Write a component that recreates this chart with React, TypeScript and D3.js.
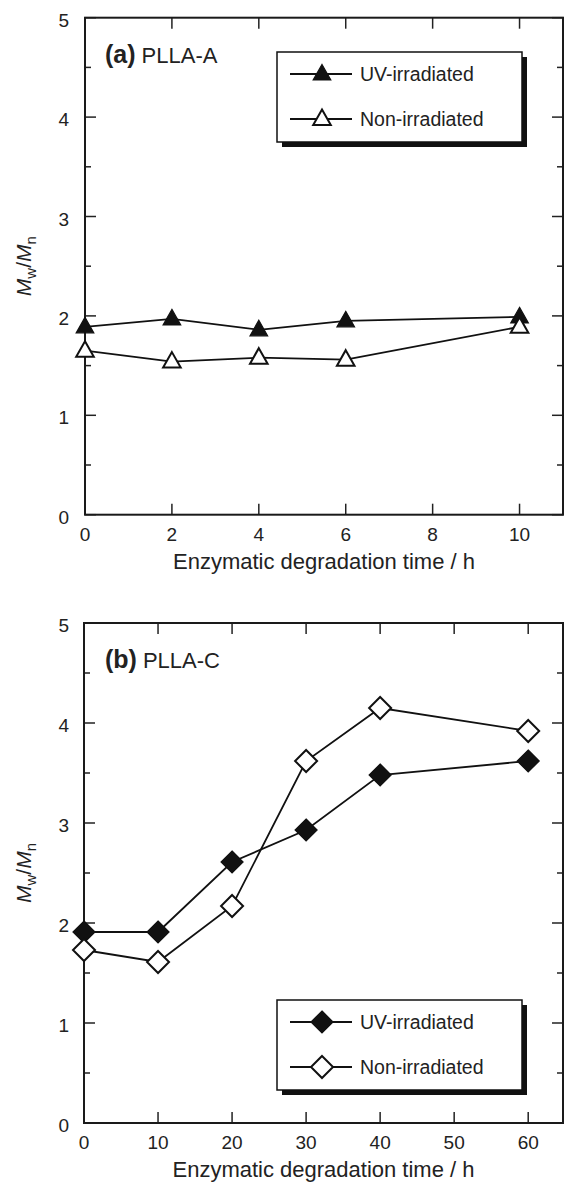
import React from 'react';
import * as d3 from 'd3';

// panel (a) PLLA-A
const timesA = [0, 2, 4, 6, 10];
const uvA = [1.89, 1.97, 1.86, 1.95, 1.99];
const nonA = [1.65, 1.54, 1.58, 1.56, 1.89];
const xTicksA = [0, 2, 4, 6, 8, 10];

// panel (b) PLLA-C
const timesB = [0, 10, 20, 30, 40, 60];
const uvB = [1.91, 1.91, 2.61, 2.93, 3.48, 3.62];
const nonB = [1.73, 1.61, 2.17, 3.62, 4.15, 3.92];
const xTicksB = [0, 10, 20, 30, 40, 50, 60];

const yTicks = [0, 1, 2, 3, 4, 5];
const yMinor = [0.5, 1.5, 2.5, 3.5, 4.5];

const FONT = '"Liberation Sans", Arial, Helvetica, sans-serif';

const triangle = 'M0,-9.5L8.8,6L-8.8,6Z';
const diamond = 'M0,-11L11,0L0,11L-11,0Z';

interface PanelProps {
  label: string;
  name: string;
  times: number[];
  uv: number[];
  non: number[];
  xTicks: number[];
  xMax: number;
  left: number;
  right: number;
  top: number;
  bottom: number;
  marker: string;
  legendY: number;
}

const Panel: React.FC<PanelProps> = (p) => {
  const x = d3.scaleLinear().domain([0, p.xMax]).range([p.left, p.right]);
  const y = d3.scaleLinear().domain([0, 5]).range([p.bottom, p.top]);
  const line = d3
    .line<number>()
    .x((_, i) => x(p.times[i]))
    .y((d) => y(d));
  const major = 11;
  const minor = 6;
  const midY = (p.top + p.bottom) / 2;
  const midX = (p.left + p.right) / 2;
  const lx = 277;
  const lw = 245;
  const lh = 90;

  const markers = (vals: number[], fill: string) =>
    vals.map((v, i) => (
      <path
        key={i}
        d={p.marker}
        transform={`translate(${x(p.times[i])},${y(v)})`}
        fill={fill}
        stroke="#111"
        strokeWidth={fill === '#fff' ? 2 : 1.2}
      />
    ));

  return (
    <g fontFamily={FONT} fill="#222">
      {/* ticks, inward on all four sides */}
      {p.xTicks.map((t) => (
        <g key={'x' + t} stroke="#222" strokeWidth={1.5}>
          <line x1={x(t)} x2={x(t)} y1={p.bottom} y2={p.bottom - major} />
          <line x1={x(t)} x2={x(t)} y1={p.top} y2={p.top + major} />
        </g>
      ))}
      {yTicks.map((t) => (
        <g key={'y' + t} stroke="#222" strokeWidth={1.5}>
          <line x1={p.left} x2={p.left + major} y1={y(t)} y2={y(t)} />
          <line x1={p.right} x2={p.right - major} y1={y(t)} y2={y(t)} />
        </g>
      ))}
      {yMinor.map((t) => (
        <g key={'m' + t} stroke="#222" strokeWidth={1.5}>
          <line x1={p.left} x2={p.left + minor} y1={y(t)} y2={y(t)} />
          <line x1={p.right} x2={p.right - minor} y1={y(t)} y2={y(t)} />
        </g>
      ))}
      <rect
        x={p.left}
        y={p.top}
        width={p.right - p.left}
        height={p.bottom - p.top}
        fill="none"
        stroke="#1a1a1a"
        strokeWidth={2}
      />
      {/* tick labels */}
      {p.xTicks.map((t) => (
        <text key={'xl' + t} x={x(t)} y={p.bottom + 26} textAnchor="middle" fontSize={19}>
          {t}
        </text>
      ))}
      {yTicks.map((t) => (
        <text key={'yl' + t} x={69} y={y(t) + 9} textAnchor="end" fontSize={19}>
          {t}
        </text>
      ))}
      <text x={midX} y={p.bottom + 54} textAnchor="middle" fontSize={22}>
        Enzymatic degradation time / h
      </text>
      <text transform={`translate(31,${midY}) rotate(-90)`} textAnchor="middle" fontSize={21}>
        <tspan fontStyle="italic">M</tspan>
        <tspan dy={5} fontSize={15}>w</tspan>
        <tspan dy={-5}>/</tspan>
        <tspan fontStyle="italic">M</tspan>
        <tspan dy={5} fontSize={15}>n</tspan>
      </text>
      <text x={105} y={p.top + 45} fontSize={22}>
        <tspan fontWeight="bold" fontSize={25}>{p.label}</tspan>
        <tspan dx={6}>{p.name}</tspan>
      </text>
      {/* series */}
      <path d={line(p.non) || ''} fill="none" stroke="#111" strokeWidth={1.8} />
      <path d={line(p.uv) || ''} fill="none" stroke="#111" strokeWidth={1.8} />
      {markers(p.uv, '#111')}
      {markers(p.non, '#fff')}
      {/* legend with drop shadow */}
      <rect x={lx + 5} y={p.legendY + 5} width={lw} height={lh} fill="#111" />
      <rect x={lx} y={p.legendY} width={lw} height={lh} fill="#fff" stroke="#111" strokeWidth={1.5} />
      {[
        { name: 'UV-irradiated', fill: '#111' },
        { name: 'Non-irradiated', fill: '#fff' },
      ].map((s, i) => {
        const ry = p.legendY + 22 + i * 45;
        return (
          <g key={s.name}>
            <line x1={lx + 13} x2={lx + 75} y1={ry} y2={ry} stroke="#111" strokeWidth={1.8} />
            <path
              d={p.marker}
              transform={`translate(${lx + 45},${ry})`}
              fill={s.fill}
              stroke="#111"
              strokeWidth={s.fill === '#fff' ? 2 : 1.2}
            />
            <text x={lx + 83} y={ry + 7} fontSize={19.5}>
              {s.name}
            </text>
          </g>
        );
      })}
    </g>
  );
};

const App: React.FC = () => {
  return (
    <svg
      width={564}
      height={1184}
      style={{ position: 'absolute', left: 0, top: 0, background: '#fff' }}
    >
      <rect width={564} height={1184} fill="#fff" />
      <Panel
        label="(a)"
        name="PLLA-A"
        times={timesA}
        uv={uvA}
        non={nonA}
        xTicks={xTicksA}
        xMax={11}
        left={85}
        right={563}
        top={17.7}
        bottom={514.7}
        marker={triangle}
        legendY={52}
      />
      <Panel
        label="(b)"
        name="PLLA-C"
        times={timesB}
        uv={uvB}
        non={nonB}
        xTicks={xTicksB}
        xMax={64.7}
        left={84}
        right={563}
        top={623}
        bottom={1123}
        marker={diamond}
        legendY={1000}
      />
    </svg>
  );
};

export default App;
